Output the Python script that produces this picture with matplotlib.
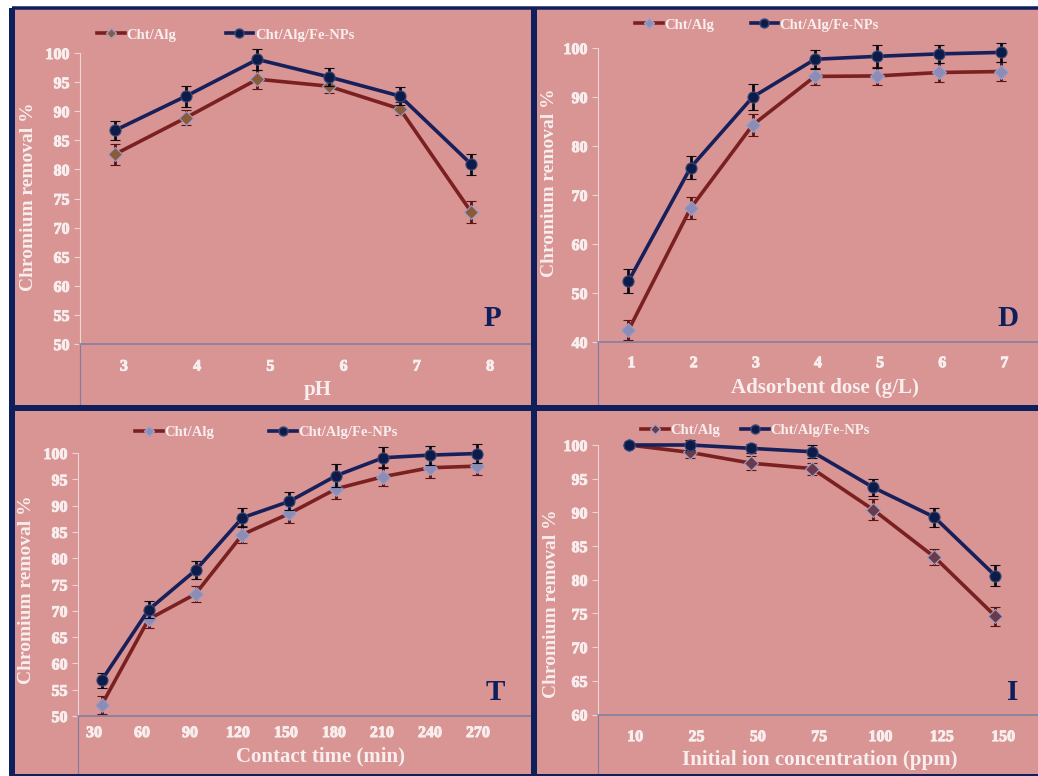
import numpy as np
import matplotlib.pyplot as plt
import matplotlib.patheffects as pe
from matplotlib.lines import Line2D
from matplotlib.patches import Rectangle
from matplotlib.transforms import Affine2D

plt.rcParams["font.family"] = ["Liberation Serif", "DejaVu Serif"]
plt.rcParams["font.weight"] = "bold"
plt.rcParams["axes.labelweight"] = "bold"

W, H = 1038, 776

# ── data ─────────────────────────────────────────────────────────────────────

ph_labels  = ["3", "4", "5", "6", "7", "8"]
ph_alg     = [82.6, 88.9, 95.5, 94.3, 90.4, 72.7]
ph_fe      = [86.7, 92.6, 98.9, 95.9, 92.6, 80.9]
ph_alg_err = [1.8, 1.3, 1.6, 1.2, 1.1, 1.9]
ph_fe_err  = [1.6, 1.8, 1.8, 1.5, 1.6, 1.8]

dose_labels  = ["1", "2", "3", "4", "5", "6", "7"]
dose_alg     = [42.4, 67.3, 84.3, 94.2, 94.3, 95.0, 95.2]
dose_fe      = [52.4, 75.6, 90.0, 97.7, 98.3, 98.8, 99.1]
dose_alg_err = [2.0, 2.2, 2.2, 1.7, 1.8, 2.0, 1.9]
dose_fe_err  = [2.4, 2.3, 2.6, 1.9, 2.4, 1.9, 2.0]

time_labels  = ["30", "60", "90", "120", "150", "180", "210", "240", "270"]
time_alg     = [52.1, 68.4, 73.2, 84.5, 88.5, 93.2, 95.5, 97.2, 97.5]
time_fe      = [56.8, 70.2, 77.7, 87.7, 90.8, 95.7, 99.1, 99.6, 99.9]
time_alg_err = [1.7, 1.7, 1.6, 1.6, 1.8, 2.0, 1.8, 1.9, 1.7]
time_fe_err  = [1.4, 1.6, 1.7, 1.8, 1.7, 2.2, 2.0, 1.8, 1.8]

conc_labels  = ["10", "25", "50", "75", "100", "125", "150"]
conc_alg     = [100.0, 98.9, 97.3, 96.5, 90.4, 83.4, 74.6]
conc_fe      = [100.0, 100.0, 99.5, 99.0, 93.7, 89.3, 80.6]
conc_alg_err = [0.4, 0.8, 1.0, 0.9, 1.6, 1.2, 1.4]
conc_fe_err  = [0.5, 0.7, 0.7, 1.0, 1.3, 1.4, 1.55]

series_names = ["Cht/Alg", "Cht/Alg/Fe-NPs"]

# ── styling ──────────────────────────────────────────────────────────────────

PINK   = "#d99494"
NAVY   = "#0e1f5c"
THIN   = "#7c7fa0"
TEXT   = "#f8eeee"
SPINE  = "#eed6d6"
ALG    = "#7a2020"
ALG_E  = "#5a1414"
FE     = "#17205a"
FE_M   = "#0d1b48"
HEAVY  = [pe.withStroke(linewidth=0.7, foreground=TEXT)]

# per panel: data, axes box in image pixels (left, top, right, bottom), limits,
# tick label placement, label / letter / legend positions (image pixels)
panels = [
    dict(labels=ph_labels, alg=ph_alg, fe=ph_fe, alg_err=ph_alg_err, fe_err=ph_fe_err,
         box=(80, 53, 531, 344), xlim=(-0.49, 5.84), ylim=(50, 100), ystep=5,
         tick_off=0.126, tick_scale=1.028, tick_pad=10.5, bottom=407,
         xlabel="pH", xlab_pos=(318, 380), ylab_pos=(37, 197),
         letter="P", letter_pos=(492, 318), leg_pos=(97, 35), colsp=3.4,
         alg_face="#8b5a3a"),
    dict(labels=dose_labels, alg=dose_alg, fe=dose_fe, alg_err=dose_alg_err, fe_err=dose_fe_err,
         box=(598, 48, 1038, 342), xlim=(-0.49, 6.59), ylim=(40, 100), ystep=10,
         tick_off=0.05, tick_scale=1.0, tick_pad=9.5, bottom=407,
         xlabel="Adsorbent dose (g/L)", xlab_pos=(825, 378), ylab_pos=(558, 183),
         letter="D", letter_pos=(1008, 318), leg_pos=(635, 25), colsp=2.5,
         alg_face="#8e8cb4"),
    dict(labels=time_labels, alg=time_alg, fe=time_fe, alg_err=time_alg_err, fe_err=time_fe_err,
         box=(78, 453, 531, 716), xlim=(-0.505, 9.15), ylim=(50, 100), ystep=5,
         tick_off=-0.164, tick_scale=1.023, tick_pad=6.5, bottom=776,
         xlabel="Contact time (min)", xlab_pos=(320, 746), ylab_pos=(35, 590),
         letter="T", letter_pos=(495, 693), leg_pos=(135, 432), colsp=3.8,
         alg_face="#8e8cb4"),
    dict(labels=conc_labels, alg=conc_alg, fe=conc_fe, alg_err=conc_alg_err, fe_err=conc_fe_err,
         box=(598, 445, 1038, 714.5), xlim=(-0.51, 6.70), ylim=(60, 100), ystep=5,
         tick_off=0.1, tick_scale=1.005, tick_pad=10.5, bottom=776,
         xlabel="Initial ion concentration (ppm)", xlab_pos=(820, 750), ylab_pos=(560, 604),
         letter="I", letter_pos=(1013, 693), leg_pos=(641, 430), colsp=1.45,
         alg_face="#6a3a4a"),
]

fig = plt.figure(figsize=(W / 100, H / 100), dpi=100, facecolor="white")
px = Affine2D().scale(1 / W, -1 / H).translate(0, 1) + fig.transFigure

# slide background
fig.patches.append(Rectangle((12, 8), W - 12, H - 8, transform=px,
                             facecolor=PINK, edgecolor="none", zorder=-5))


def fig_line(xs, ys, color, lw):
    fig.add_artist(Line2D(xs, ys, transform=px, color=color, lw=lw * 0.72,
                          solid_capstyle="butt", zorder=5))


for p in panels:
    l, t, r, b = p["box"]
    ax = fig.add_axes([l / W, 1 - b / H, (r - l) / W, (b - t) / H])
    ax.set_facecolor("none")

    x = np.arange(len(p["labels"]))

    alg = ax.errorbar(x, p["alg"], yerr=p["alg_err"], color=ALG, lw=2.6,
                      marker="D", ms=7.5, mfc=p["alg_face"], mec="#9aa0c8", mew=0.8,
                      ecolor=ALG_E, elinewidth=2.0, capsize=3.5, capthick=2.0, zorder=3)
    fe = ax.errorbar(x, p["fe"], yerr=p["fe_err"], color=FE, lw=2.6,
                     marker="o", ms=8, mfc=FE_M, mec="#3a4a78", mew=0.8,
                     ecolor="#0a0a14", elinewidth=2.0, capsize=3.5, capthick=2.0, zorder=4)
    for cont in (alg, fe):
        for art in cont.get_children():
            art.set_clip_on(False)

    ax.set_xlim(*p["xlim"])
    ax.set_ylim(*p["ylim"])
    yt = np.arange(p["ylim"][0], p["ylim"][1] + 1, p["ystep"])
    ax.set_yticks(yt, [f"{v:g}" for v in yt], fontweight="bold", fontsize=11.5,
                  path_effects=HEAVY)
    ax.set_xticks(p["tick_off"] + p["tick_scale"] * x, p["labels"],
                  fontweight="bold", fontsize=11.5, path_effects=HEAVY)

    for side in ("top", "right"):
        ax.spines[side].set_visible(False)
    ax.spines["left"].set_color(SPINE)
    ax.spines["left"].set_linewidth(0.8)
    ax.spines["bottom"].set_color(THIN)
    ax.spines["bottom"].set_linewidth(1.1)

    ax.tick_params(axis="y", direction="out", length=4.5, width=0.8, color=SPINE,
                   labelcolor=TEXT, pad=3)
    ax.tick_params(axis="x", length=0, labelcolor=TEXT, pad=p["tick_pad"])

    ax.set_xlabel(p["xlabel"], color=TEXT, fontsize=15, fontweight="bold", va="top")
    ax.xaxis.set_label_coords(*p["xlab_pos"], transform=px)
    ax.set_ylabel("Chromium removal %", color=TEXT, fontsize=14, fontweight="bold")
    ax.yaxis.set_label_coords(*p["ylab_pos"], transform=px)

    fig.text(*p["letter_pos"], p["letter"], transform=px, ha="center", va="center",
             fontsize=21, fontweight="bold", color=NAVY)

    handles = [
        Line2D([], [], color=ALG, lw=2.6, marker="D", ms=5.5, mfc=p["alg_face"], mec="#9aa0c8"),
        Line2D([], [], color=FE, lw=2.6, marker="o", ms=6.5, mfc=FE_M, mec="#3a4a78"),
    ]
    ax.legend(handles, series_names, loc="center left", bbox_to_anchor=p["leg_pos"],
              bbox_transform=px, ncol=2, frameon=False, borderpad=0, borderaxespad=0,
              handlelength=1.9, handletextpad=0.1, columnspacing=p["colsp"],
              labelcolor=TEXT, prop=dict(size=10.5, weight="bold"))

    # table cell line below the y axis
    fig_line([l, l], [b, p["bottom"]], THIN, 1.1)

# frame lines of the slide
fig_line([12, W], [8, 8], NAVY, 3.5)
fig_line([12, 12], [8, H], NAVY, 6)
fig_line([534, 534], [8, H], NAVY, 6)
fig_line([12, W], [408, 408], NAVY, 6)
fig_line([12, W], [774.5, 774.5], NAVY, 3)

fig.savefig("out.png", dpi=100, facecolor=fig.get_facecolor())
